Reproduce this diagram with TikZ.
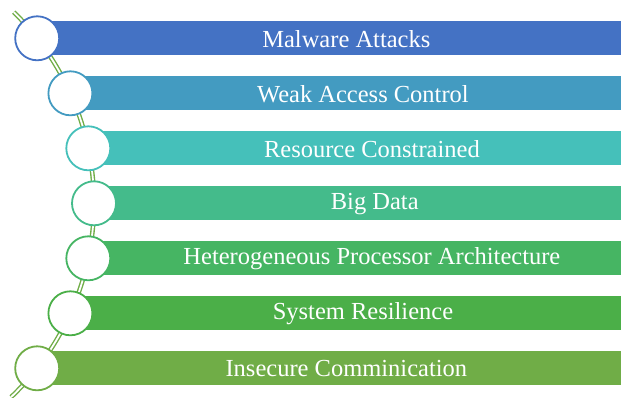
\documentclass[tikz,border=0pt]{standalone}
\usepackage{fontspec}
\setmainfont{Liberation Serif}
\definecolor{cA}{HTML}{4472C4}
\definecolor{cB}{HTML}{439BC1}
\definecolor{cC}{HTML}{45C0BA}
\definecolor{cD}{HTML}{44BB8B}
\definecolor{cE}{HTML}{46B563}
\definecolor{cF}{HTML}{4BAF48}
\definecolor{cG}{HTML}{70AD47}
\definecolor{link}{HTML}{70AD47}
\begin{document}
\begin{tikzpicture}[x=1pt,y=1pt,
  ring/.style={circle,draw,line width=1.8pt,fill=white,minimum size=44pt,inner sep=0pt},
  label/.style={text=white,font=\fontsize{24.5}{26}\selectfont},
  chain/.style={draw=link,line width=1.4pt,double=white,double distance=1.8pt}]
\useasboundingbox (0,0) rectangle (621,397);
\coordinate (bot) at ({-174+268*cos(-46.3)},{193.7+268*sin(-46.3)});
\draw[chain] (bot) arc[start angle=-46.3,end angle=45.5,radius=268];
\foreach \i/\x/\col/\txt in {
  1/37.2/cA/Malware Attacks,
  2/70.4/cB/Weak Access Control,
  3/88.3/cC/Resource Constrained,
  4/94.0/cD/Big Data,
  5/88.3/cE/Heterogeneous Processor Architecture,
  6/70.4/cF/System Resilience,
  7/37.2/cG/Insecure Comminication}{
  \pgfmathsetmacro{\yy}{193.7+55*(4-\i)}
  \fill[\col] (\x,\yy-17) rectangle (621,\yy+17);
  \node[ring,draw=\col] (c\i) at (\x,\yy) {};
  \node[label] (t\i) at ({(\x+22.5+621)/2+6},\yy-0.5) {\txt};
}
\end{tikzpicture}
\end{document}
